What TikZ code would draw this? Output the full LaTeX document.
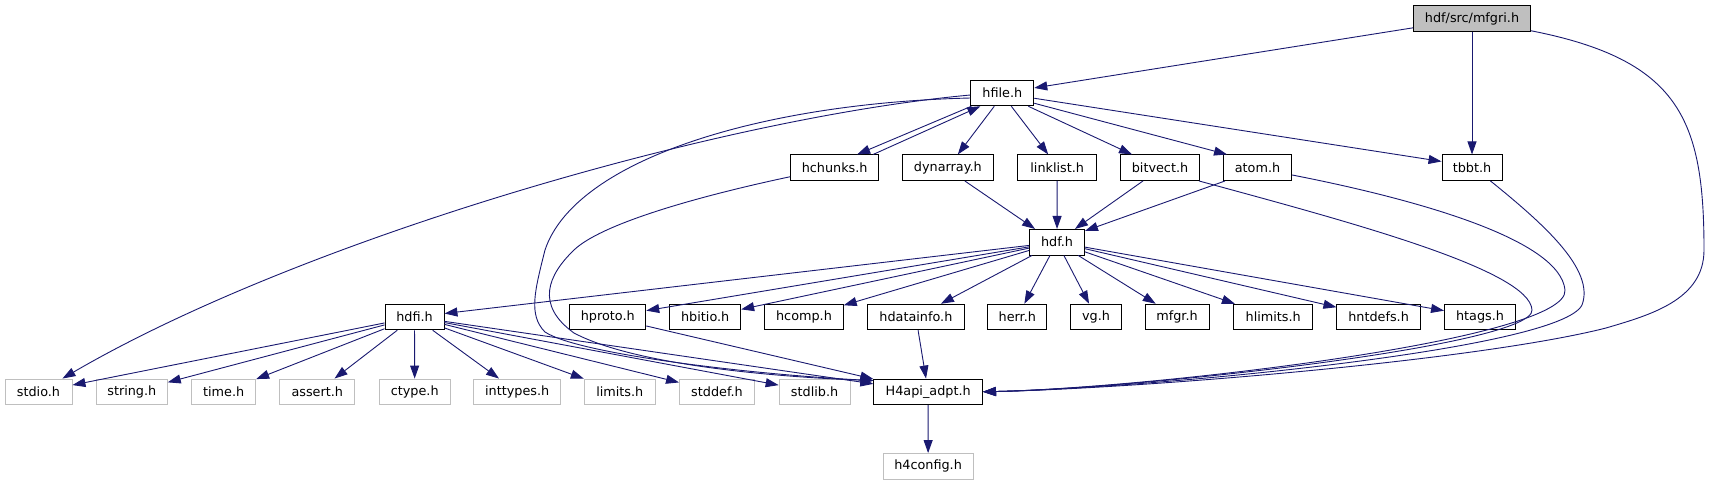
\documentclass[tikz,border=0pt]{standalone}
\usepackage{fontspec}
\setmainfont{DejaVu Sans}
\usetikzlibrary{arrows.meta}
\definecolor{edgec}{HTML}{191970}
\definecolor{grayb}{HTML}{BFBFBF}
\begin{document}
\begin{tikzpicture}[x=1pt,y=-1pt,
  box/.style={draw=black,line width=0.9pt,fill=white,minimum height=25.6pt,inner sep=0pt,font=\fontsize{12.8}{14}\selectfont,text=black},
  ext/.style={box,draw=grayb},
  root/.style={box,fill=grayb},
  e/.style={draw=edgec,line width=0.9pt,-{Triangle[length=13pt,width=9pt]}},
  ]
\useasboundingbox (0,0) rectangle (1711,485);
% row 0
\node[root,minimum width=117pt] (mfgri) at (1472,18.5) {hdf/src/mfgri.h};
% row 1
\node[box,minimum width=63pt] (hfile) at (1002.3,93) {hfile.h};
% row 2
\node[box,minimum width=88pt] (hchunks) at (834.7,167.7) {hchunks.h};
\node[box,minimum width=91pt] (dynarray) at (947.8,167.7) {dynarray.h};
\node[box,minimum width=79pt] (linklist) at (1057.2,167.7) {linklist.h};
\node[box,minimum width=79pt] (bitvect) at (1160,167.7) {bitvect.h};
\node[box,minimum width=68pt] (atom) at (1257.5,167.7) {atom.h};
\node[box,minimum width=60pt] (tbbt) at (1472,167.7) {tbbt.h};
% row 3
\node[box,minimum width=55pt] (hdf) at (1057,242.2) {hdf.h};
% row 4
\node[box,minimum width=59pt] (hdfi) at (414.5,317) {hdfi.h};
\node[box,minimum width=76pt] (hproto) at (607.8,317) {hproto.h};
\node[box,minimum width=71pt] (hbitio) at (705.2,317) {hbitio.h};
\node[box,minimum width=78.5pt] (hcomp) at (804,317) {hcomp.h};
\node[box,minimum width=97pt] (hdatainfo) at (915.9,317) {hdatainfo.h};
\node[box,minimum width=59pt] (herr) at (1017.3,317) {herr.h};
\node[box,minimum width=51pt] (vg) at (1096,317) {vg.h};
\node[box,minimum width=64pt] (mfgr) at (1177,317) {mfgr.h};
\node[box,minimum width=79pt] (hlimits) at (1273.2,317) {hlimits.h};
\node[box,minimum width=83.4pt] (hntdefs) at (1378.6,317) {hntdefs.h};
\node[box,minimum width=71pt] (htags) at (1480,317) {htags.h};
% row 5
\node[ext,minimum width=67pt] (stdio) at (38.5,391.8) {stdio.h};
\node[ext,minimum width=71pt] (string) at (131.8,391.8) {string.h};
\node[ext,minimum width=64pt] (time) at (223.7,391.8) {time.h};
\node[ext,minimum width=75pt] (assert) at (317.3,391.8) {assert.h};
\node[ext,minimum width=71pt] (ctype) at (414.7,391.8) {ctype.h};
\node[ext,minimum width=87pt] (inttypes) at (517.2,391.8) {inttypes.h};
\node[ext,minimum width=71pt] (limits) at (619.8,391.8) {limits.h};
\node[ext,minimum width=75pt] (stddef) at (717,391.8) {stddef.h};
\node[ext,minimum width=71pt] (stdlib) at (814.6,391.8) {stdlib.h};
\node[box,minimum width=108.7pt] (H4api) at (928.2,391.8) {H4api\_adpt.h};
% row 6
\node[ext,minimum width=90pt] (h4config) at (928.1,466.3) {h4config.h};

% edges from mfgri
\draw[e] (mfgri) -- (hfile);
\draw[e] (mfgri) -- (tbbt);
\draw[e] ([yshift=1pt]mfgri.south east) .. controls (1680,60) and (1704,120) .. (1704,250)
  .. controls (1704,300) and (1650,315) .. (1606,328)
  .. controls (1480,360) and (1150,388) .. (H4api.east);
% edges from hfile
\draw[e] ([xshift=1pt]hfile.south west) -- ([xshift=-22pt]hchunks.north east);
\draw[e] ([xshift=-6pt]hchunks.north east) -- ([xshift=10pt]hfile.south west);
\draw[e] ([xshift=-8pt]hfile.south) -- ([xshift=10pt]dynarray.north);
\draw[e] ([xshift=9pt]hfile.south) -- ([xshift=-9pt]linklist.north);
\draw[e] ([xshift=-6pt]hfile.south east) -- ([xshift=-28pt]bitvect.north);
\draw[e] ([yshift=3pt]hfile.south east) -- ([xshift=4pt]atom.north west);
\draw[e] ([yshift=8pt]hfile.south east) -- ([yshift=-7pt]tbbt.north west);
\draw[e] ([yshift=-2pt]hfile.west) .. controls (720,118) and (300,240) .. ([xshift=-10pt]stdio.north east);
\draw[e] ([yshift=-5pt]hfile.west) .. controls (760,103) and (575,160) .. (545,250)
  .. controls (535,290) and (528,315) .. (545,332)
  .. controls (580,355) and (760,375) .. ([yshift=-2pt]H4api.north west);
% hchunks
\draw[e] ([yshift=-9pt]hchunks.west) .. controls (690,198) and (600,225) .. (574,250)
  .. controls (548,275) and (535,305) .. (574,333)
  .. controls (640,368) and (800,378) .. ([yshift=-2pt]H4api.north west);
% into hdf
\draw[e] ([xshift=17pt]dynarray.south) -- ([xshift=6pt]hdf.north west);
\draw[e] (linklist) -- (hdf);
\draw[e] ([xshift=-17pt]bitvect.south) -- ([xshift=-10pt]hdf.north east);
\draw[e] ([xshift=2pt]atom.south west) -- ([yshift=-2pt]hdf.north east);
% right bundle into H4api
\draw[e] ([xshift=-1pt]bitvect.south east) .. controls (1350,222) and (1530,270) .. (1532,310)
  .. controls (1534,345) and (1150,388) .. (H4api.east);
\draw[e] ([yshift=6pt]atom.south east) .. controls (1420,200) and (1560,240) .. (1565,290)
  .. controls (1570,340) and (1150,388) .. (H4api.east);
\draw[e] ([xshift=-12pt]tbbt.south east) .. controls (1545,225) and (1595,270) .. (1582,305)
  .. controls (1560,350) and (1150,388) .. (H4api.east);
% from hdf
\foreach \t in {hdfi,hproto,hbitio,hcomp,hdatainfo,herr,vg,mfgr,hlimits,hntdefs,htags}
  \draw[e] (hdf) -- (\t);
% from hdfi
\foreach \t in {stdio,string,time,assert,ctype,inttypes,limits,stddef,stdlib,H4api}
  \draw[e] (hdfi) -- (\t);
\draw[e] (hproto) -- (H4api);
\draw[e] (hdatainfo) -- (H4api);
\draw[e] (H4api) -- (h4config);
\end{tikzpicture}
\end{document}
